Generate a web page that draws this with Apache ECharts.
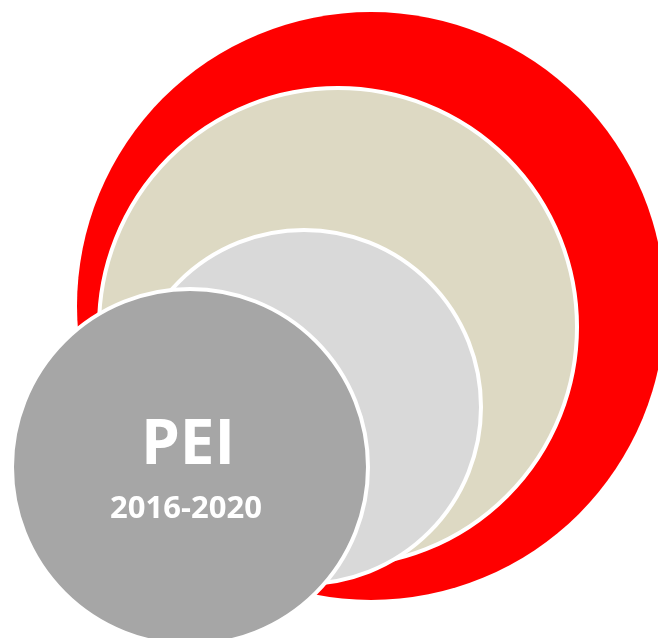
<!DOCTYPE html>
<html>
<head>
<meta charset="utf-8">
<script src="https://cdn.jsdelivr.net/npm/echarts@6/dist/echarts.min.js"></script>
<style>html,body{margin:0;padding:0;background:#fff;}#c{width:658px;height:638px;}</style>
</head>
<body>
<div id="c"></div>
<script>
// circle data (in chart units)
const names = ['outer', 'second', 'third', 'core'];
const centerX = [371, 338, 304, 190];
const centerY = [306, 327, 407, 467];
const radius = [294, 239, 177, 178];
const colors = ['#FF0000', '#DDD9C3', '#D9D9D9', '#A6A6A6'];
const titleText = 'PEI';
const subText = '2016-2020';

const chart = echarts.init(document.getElementById('c'), null, {renderer: 'canvas'});
const data = names.map((n, i) => ({name: n, value: [centerX[i], centerY[i], radius[i], i]}));

chart.setOption({
  animation: false,
  grid: {left: 0, right: 0, top: 0, bottom: 0},
  xAxis: {type: 'value', min: 0, max: 658, show: false},
  yAxis: {type: 'value', min: 0, max: 638, inverse: true, show: false},
  series: [{
    type: 'custom',
    clip: false,
    data: data,
    renderItem: function (params, api) {
      const i = api.value(3);
      const c = api.coord([api.value(0), api.value(1)]);
      const r = api.size([api.value(2), 0])[0];
      const children = [{
        type: 'circle',
        shape: {cx: c[0], cy: c[1], r: r},
        style: {fill: colors[i], stroke: '#fff', lineWidth: i === 0 ? 0 : 4}
      }];
      if (i === names.length - 1) {
        children.push({
          type: 'text',
          style: {
            x: c[0] - 2, y: c[1] - 21, text: titleText,
            fill: '#fff', font: 'bold 62px "Open Sans", sans-serif',
            align: 'center', verticalAlign: 'middle'
          }
        });
        children.push({
          type: 'text',
          style: {
            x: c[0] - 4, y: c[1] + 42, text: subText,
            fill: '#fff', font: 'bold 31px "Open Sans", sans-serif',
            align: 'center', verticalAlign: 'middle'
          }
        });
      }
      return {type: 'group', children: children};
    }
  }]
});
</script>
</body>
</html>
